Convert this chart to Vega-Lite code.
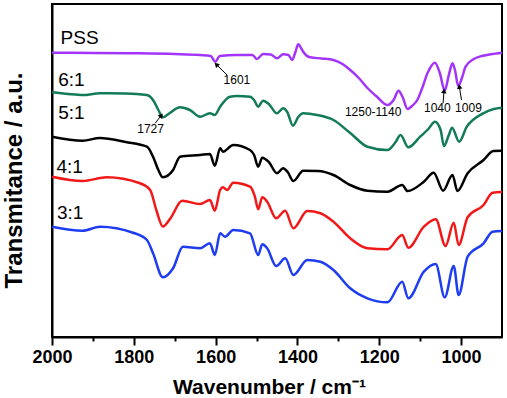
{
  "$schema": "https://vega.github.io/schema/vega-lite/v6.json",
  "width": 450,
  "height": 333,
  "autosize": {"type": "none"},
  "padding": {"left": 52, "top": 4, "right": 5, "bottom": 61},
  "background": "white",
  "config": {
    "view": {"stroke": "black", "strokeWidth": 2},
    "font": "Liberation Sans"
  },
  "datasets": {
    "spectra": [
      {"s":"PSS","w":2000,"t":284.3},{"s":"PSS","w":1900,"t":284},{"s":"PSS","w":1800,"t":283.7},{"s":"PSS","w":1700,"t":283},{"s":"PSS","w":1638,"t":282},{"s":"PSS","w":1612,"t":281},{"s":"PSS","w":1601,"t":275.3},{"s":"PSS","w":1590,"t":281},{"s":"PSS","w":1550,"t":282},{"s":"PSS","w":1510,"t":282},{"s":"PSS","w":1499,"t":278},{"s":"PSS","w":1484,"t":283},{"s":"PSS","w":1465,"t":282.5},{"s":"PSS","w":1450,"t":278.7},{"s":"PSS","w":1435,"t":282.7},{"s":"PSS","w":1422,"t":282},{"s":"PSS","w":1413,"t":277},{"s":"PSS","w":1405,"t":285},{"s":"PSS","w":1398,"t":292.7},{"s":"PSS","w":1390,"t":288},{"s":"PSS","w":1386,"t":285.3},{"s":"PSS","w":1369,"t":279.7},{"s":"PSS","w":1340,"t":278.5},{"s":"PSS","w":1312,"t":277},{"s":"PSS","w":1290,"t":273},{"s":"PSS","w":1271,"t":267},{"s":"PSS","w":1250,"t":259},{"s":"PSS","w":1229,"t":249},{"s":"PSS","w":1205,"t":240},{"s":"PSS","w":1180,"t":232},{"s":"PSS","w":1165,"t":237},{"s":"PSS","w":1153,"t":246.3},{"s":"PSS","w":1143,"t":240},{"s":"PSS","w":1131,"t":228},{"s":"PSS","w":1120,"t":231},{"s":"PSS","w":1107,"t":237},{"s":"PSS","w":1095,"t":249},{"s":"PSS","w":1082,"t":264},{"s":"PSS","w":1064,"t":274.3},{"s":"PSS","w":1052,"t":264},{"s":"PSS","w":1040,"t":246.3},{"s":"PSS","w":1030,"t":262},{"s":"PSS","w":1021,"t":273.7},{"s":"PSS","w":1015,"t":267},{"s":"PSS","w":1007,"t":251},{"s":"PSS","w":998,"t":259},{"s":"PSS","w":989,"t":270.3},{"s":"PSS","w":970,"t":277.7},{"s":"PSS","w":950,"t":281},{"s":"PSS","w":928,"t":282.7},{"s":"PSS","w":900,"t":284.3},

      {"s":"6:1","w":2000,"t":244.7},{"s":"6:1","w":1960,"t":243},{"s":"6:1","w":1925,"t":242},{"s":"6:1","w":1883,"t":243.7},{"s":"6:1","w":1820,"t":243.5},{"s":"6:1","w":1768,"t":242},{"s":"6:1","w":1753,"t":237},{"s":"6:1","w":1740,"t":227},{"s":"6:1","w":1729,"t":219.7},{"s":"6:1","w":1712,"t":224},{"s":"6:1","w":1687,"t":229.7},{"s":"6:1","w":1663,"t":227},{"s":"6:1","w":1638,"t":220.3},{"s":"6:1","w":1614,"t":223.7},{"s":"6:1","w":1602,"t":222},{"s":"6:1","w":1589,"t":230.3},{"s":"6:1","w":1565,"t":240.3},{"s":"6:1","w":1548,"t":241},{"s":"6:1","w":1516,"t":240.3},{"s":"6:1","w":1506,"t":237},{"s":"6:1","w":1496,"t":230.3},{"s":"6:1","w":1484,"t":236.3},{"s":"6:1","w":1470,"t":233},{"s":"6:1","w":1450,"t":223.7},{"s":"6:1","w":1435,"t":228.7},{"s":"6:1","w":1425,"t":225},{"s":"6:1","w":1411,"t":211.3},{"s":"6:1","w":1398,"t":220},{"s":"6:1","w":1386,"t":223.7},{"s":"6:1","w":1352,"t":222},{"s":"6:1","w":1312,"t":217},{"s":"6:1","w":1271,"t":204},{"s":"6:1","w":1229,"t":190.3},{"s":"6:1","w":1180,"t":187},{"s":"6:1","w":1160,"t":195},{"s":"6:1","w":1148,"t":202},{"s":"6:1","w":1129,"t":189.7},{"s":"6:1","w":1100,"t":200.3},{"s":"6:1","w":1080,"t":208},{"s":"6:1","w":1064,"t":215.3},{"s":"6:1","w":1050,"t":207},{"s":"6:1","w":1042,"t":191},{"s":"6:1","w":1030,"t":202},{"s":"6:1","w":1022,"t":209.3},{"s":"6:1","w":1005,"t":195.3},{"s":"6:1","w":986,"t":210.3},{"s":"6:1","w":946,"t":223.7},{"s":"6:1","w":920,"t":228},{"s":"6:1","w":900,"t":229.3},

      {"s":"5:1","w":2000,"t":200.3},{"s":"5:1","w":1925,"t":196.3},{"s":"5:1","w":1883,"t":199},{"s":"5:1","w":1820,"t":195},{"s":"5:1","w":1768,"t":190.3},{"s":"5:1","w":1753,"t":180.3},{"s":"5:1","w":1740,"t":167},{"s":"5:1","w":1729,"t":159.7},{"s":"5:1","w":1704,"t":167},{"s":"5:1","w":1687,"t":180.3},{"s":"5:1","w":1638,"t":182},{"s":"5:1","w":1614,"t":183},{"s":"5:1","w":1602,"t":171.3},{"s":"5:1","w":1589,"t":188.7},{"s":"5:1","w":1582,"t":185.3},{"s":"5:1","w":1557,"t":192},{"s":"5:1","w":1516,"t":187},{"s":"5:1","w":1506,"t":182},{"s":"5:1","w":1496,"t":170.3},{"s":"5:1","w":1486,"t":179.3},{"s":"5:1","w":1470,"t":175},{"s":"5:1","w":1450,"t":163.7},{"s":"5:1","w":1435,"t":168.7},{"s":"5:1","w":1424,"t":165},{"s":"5:1","w":1410,"t":156},{"s":"5:1","w":1386,"t":166.3},{"s":"5:1","w":1350,"t":166},{"s":"5:1","w":1312,"t":162},{"s":"5:1","w":1271,"t":152},{"s":"5:1","w":1229,"t":146.3},{"s":"5:1","w":1180,"t":145.3},{"s":"5:1","w":1144,"t":152},{"s":"5:1","w":1131,"t":146},{"s":"5:1","w":1091,"t":155.3},{"s":"5:1","w":1067,"t":164.3},{"s":"5:1","w":1044,"t":146.3},{"s":"5:1","w":1021,"t":162},{"s":"5:1","w":1009,"t":146},{"s":"5:1","w":984,"t":163.7},{"s":"5:1","w":945,"t":177},{"s":"5:1","w":921,"t":186},{"s":"5:1","w":900,"t":186.3},

      {"s":"4:1","w":2000,"t":160.3},{"s":"4:1","w":1925,"t":156},{"s":"4:1","w":1866,"t":159.7},{"s":"4:1","w":1785,"t":153.7},{"s":"4:1","w":1760,"t":147},{"s":"4:1","w":1745,"t":127},{"s":"4:1","w":1729,"t":110.5},{"s":"4:1","w":1710,"t":119},{"s":"4:1","w":1682,"t":136.3},{"s":"4:1","w":1638,"t":133},{"s":"4:1","w":1614,"t":137},{"s":"4:1","w":1602,"t":126.3},{"s":"4:1","w":1589,"t":147},{"s":"4:1","w":1582,"t":149.7},{"s":"4:1","w":1572,"t":147},{"s":"4:1","w":1557,"t":154.3},{"s":"4:1","w":1516,"t":150.3},{"s":"4:1","w":1504,"t":140.3},{"s":"4:1","w":1496,"t":127.7},{"s":"4:1","w":1486,"t":139.7},{"s":"4:1","w":1474,"t":135.3},{"s":"4:1","w":1452,"t":118.7},{"s":"4:1","w":1430,"t":126.3},{"s":"4:1","w":1410,"t":108.7},{"s":"4:1","w":1376,"t":126},{"s":"4:1","w":1344,"t":123.7},{"s":"4:1","w":1312,"t":115.3},{"s":"4:1","w":1271,"t":98.7},{"s":"4:1","w":1229,"t":88.7},{"s":"4:1","w":1180,"t":87.7},{"s":"4:1","w":1144,"t":102},{"s":"4:1","w":1129,"t":89.3},{"s":"4:1","w":1091,"t":110.3},{"s":"4:1","w":1062,"t":117.7},{"s":"4:1","w":1038,"t":91},{"s":"4:1","w":1018,"t":114.3},{"s":"4:1","w":1006,"t":92},{"s":"4:1","w":984,"t":119.7},{"s":"4:1","w":945,"t":132},{"s":"4:1","w":923,"t":144.3},{"s":"4:1","w":900,"t":145},

      {"s":"3:1","w":2000,"t":110.3},{"s":"3:1","w":1925,"t":106.3},{"s":"3:1","w":1883,"t":110.3},{"s":"3:1","w":1802,"t":104.3},{"s":"3:1","w":1768,"t":97},{"s":"3:1","w":1753,"t":83.7},{"s":"3:1","w":1729,"t":59.7},{"s":"3:1","w":1704,"t":68.7},{"s":"3:1","w":1680,"t":90.3},{"s":"3:1","w":1638,"t":88.7},{"s":"3:1","w":1614,"t":93.7},{"s":"3:1","w":1602,"t":82},{"s":"3:1","w":1589,"t":103.7},{"s":"3:1","w":1577,"t":100.3},{"s":"3:1","w":1557,"t":107},{"s":"3:1","w":1516,"t":103.7},{"s":"3:1","w":1496,"t":82},{"s":"3:1","w":1486,"t":92.7},{"s":"3:1","w":1474,"t":88.7},{"s":"3:1","w":1452,"t":71},{"s":"3:1","w":1430,"t":78.7},{"s":"3:1","w":1410,"t":62},{"s":"3:1","w":1376,"t":77},{"s":"3:1","w":1344,"t":75.3},{"s":"3:1","w":1312,"t":67},{"s":"3:1","w":1271,"t":48.7},{"s":"3:1","w":1229,"t":38.7},{"s":"3:1","w":1180,"t":34.7},{"s":"3:1","w":1144,"t":55.3},{"s":"3:1","w":1129,"t":38.7},{"s":"3:1","w":1091,"t":65.3},{"s":"3:1","w":1062,"t":73},{"s":"3:1","w":1040,"t":39.7},{"s":"3:1","w":1018,"t":71},{"s":"3:1","w":1006,"t":42},{"s":"3:1","w":984,"t":80.3},{"s":"3:1","w":945,"t":93.7},{"s":"3:1","w":923,"t":105.3},{"s":"3:1","w":900,"t":106}
    ],
    "names": [
      {"name":"PSS","w":1979,"t":299},
      {"name":"6:1","w":1985,"t":257},
      {"name":"5:1","w":1985,"t":224},
      {"name":"4:1","w":1989,"t":170},
      {"name":"3:1","w":1988,"t":124}
    ],
    "notes": [
      {"text":"1601","w":1548,"t":257},
      {"text":"1727","w":1759,"t":208},
      {"text":"1250-1140","w":1215,"t":225},
      {"text":"1040","w":1058,"t":229},
      {"text":"1009","w":982,"t":229}
    ],
    "arrows": [
      {"id":"1601","w":1572,"t":262,"w2":1597,"t2":272},
      {"id":"1727","w":1748,"t":213.7,"w2":1734,"t2":221},
      {"id":"1040","w":1044,"t":233.7,"w2":1042,"t2":245.3},
      {"id":"1009","w":999,"t":237,"w2":1004,"t2":249.7}
    ]
  },
  "encoding": {
    "x": {
      "field": "w", "type": "quantitative",
      "scale": {"domain": [2000, 900], "nice": false, "zero": false},
      "axis": {
        "title": "Wavenumber / cm⁻¹",
        "values": [2000,1900,1800,1700,1600,1500,1400,1300,1200,1100,1000],
        "labelExpr": "datum.value % 200 === 0 ? datum.label : ''",
        "format": "d",
        "grid": false,
        "domainColor": "black", "domainWidth": 2,
        "tickColor": "black", "tickWidth": 2,
        "tickSize": {"condition": {"test": "datum.value % 200 === 0", "value": 8}, "value": 4},
        "labelFont": "Liberation Sans", "labelFontSize": 18, "labelFontWeight": "bold", "labelColor": "black",
        "labelPadding": 3, "labelFlush": false, "labelOverlap": false,
        "titleFont": "Liberation Sans", "titleFontSize": 21, "titleFontWeight": "bold", "titleColor": "black",
        "titleBaseline": "alphabetic", "titleY": 56, "titleX": 217, "titleAnchor": "middle"
      }
    },
    "y": {
      "field": "t", "type": "quantitative",
      "scale": {"domain": [0, 333], "nice": false, "zero": false},
      "axis": {
        "title": "Transmitance / a.u.",
        "labels": false, "ticks": false, "grid": false,
        "domainColor": "black", "domainWidth": 2,
        "titleFont": "Liberation Sans", "titleFontSize": 24, "titleFontWeight": "bold", "titleColor": "black",
        "titleBaseline": "alphabetic", "titleAngle": -90, "titleX": -31, "titleY": 176, "titleAlign": "center"
      }
    }
  },
  "layer": [
    {
      "data": {"name": "spectra"},
      "mark": {"type": "line", "strokeWidth": 2.5, "interpolate": "monotone"},
      "encoding": {
        "color": {
          "field": "s", "type": "nominal", "legend": null,
          "scale": {"domain": ["PSS","6:1","5:1","4:1","3:1"], "range": ["#A335FA","#137A5A","#000000","#F21818","#1E3CF0"]}
        },
        "detail": {"field": "s"}
      }
    },
    {
      "data": {"name": "names"},
      "mark": {"type": "text", "align": "left", "baseline": "middle", "fontSize": 19, "font": "Liberation Sans", "color": "black"},
      "encoding": {"text": {"field": "name"}}
    },
    {
      "data": {"name": "notes"},
      "mark": {"type": "text", "align": "center", "baseline": "middle", "fontSize": 12, "font": "Liberation Sans", "color": "black"},
      "encoding": {"text": {"field": "text"}}
    },
    {
      "data": {"name": "arrows"},
      "mark": {"type": "rule", "color": "black", "strokeWidth": 1},
      "encoding": {"x2": {"field": "w2"}, "y2": {"field": "t2"}}
    },
    {
      "data": {"name": "arrows"},
      "transform": [{"filter": "datum.id === '1601'"}],
      "mark": {"type": "point", "shape": "triangle", "filled": true, "color": "black", "size": 30, "angle": -45, "opacity": 1},
      "encoding": {"x": {"field": "w2", "type": "quantitative"}, "y": {"field": "t2", "type": "quantitative"}}
    },
    {
      "data": {"name": "arrows"},
      "transform": [{"filter": "datum.id === '1727'"}],
      "mark": {"type": "point", "shape": "triangle", "filled": true, "color": "black", "size": 30, "angle": 38, "opacity": 1},
      "encoding": {"x": {"field": "w2", "type": "quantitative"}, "y": {"field": "t2", "type": "quantitative"}}
    },
    {
      "data": {"name": "arrows"},
      "transform": [{"filter": "datum.id === '1040'"}],
      "mark": {"type": "point", "shape": "triangle", "filled": true, "color": "black", "size": 30, "angle": 5, "opacity": 1},
      "encoding": {"x": {"field": "w2", "type": "quantitative"}, "y": {"field": "t2", "type": "quantitative"}}
    },
    {
      "data": {"name": "arrows"},
      "transform": [{"filter": "datum.id === '1009'"}],
      "mark": {"type": "point", "shape": "triangle", "filled": true, "color": "black", "size": 30, "angle": -10, "opacity": 1},
      "encoding": {"x": {"field": "w2", "type": "quantitative"}, "y": {"field": "t2", "type": "quantitative"}}
    }
  ]
}
